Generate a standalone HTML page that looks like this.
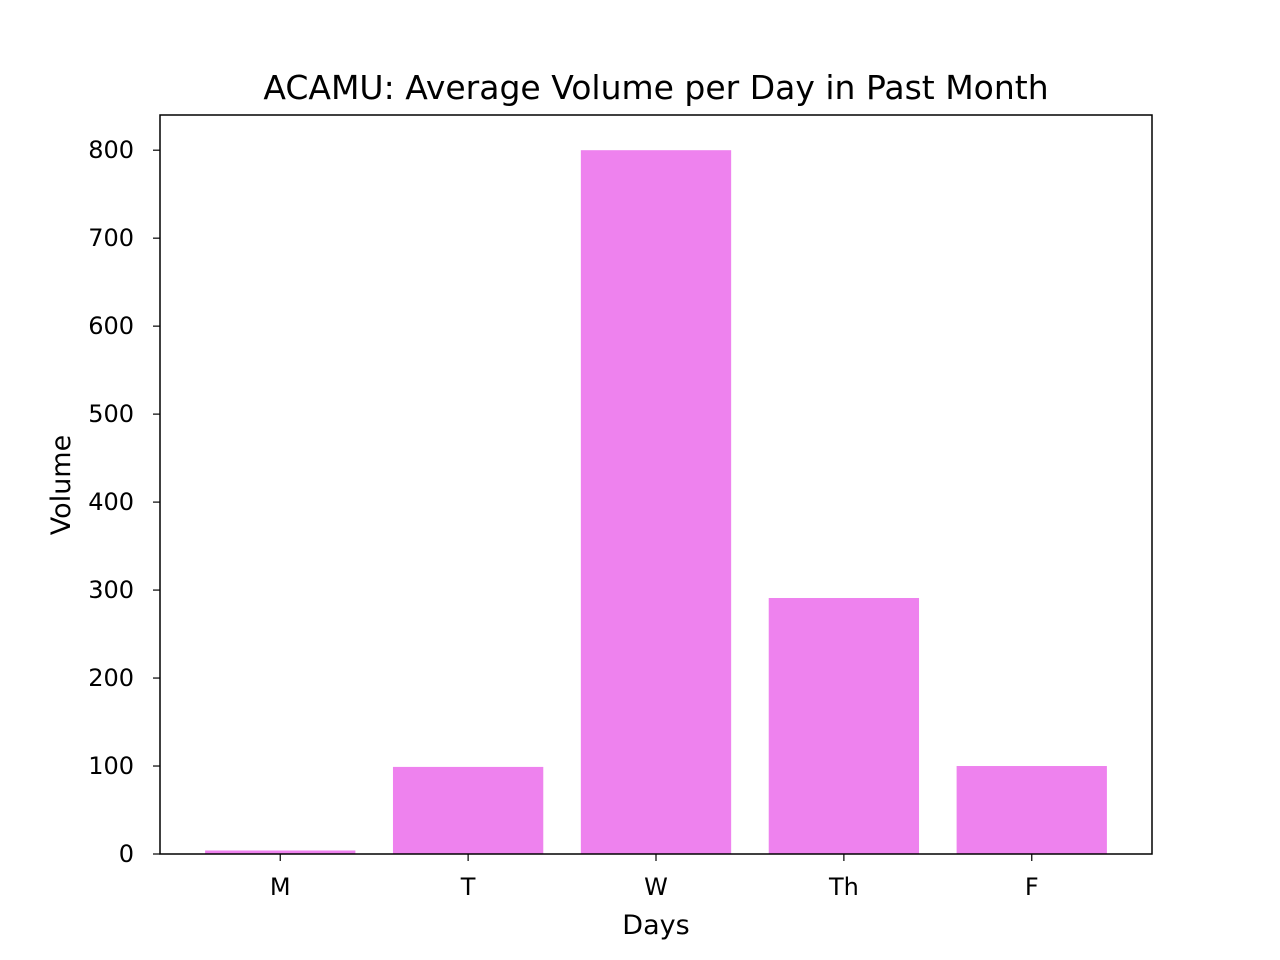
<!DOCTYPE html>
<html><head><meta charset="utf-8">
<style>
html,body{margin:0;padding:0;background:#fff;}
svg{display:block;font-family:"DejaVu Sans","Liberation Sans",sans-serif;}
</style></head>
<body>
<svg id="chart" width="1280" height="960" xmlns="http://www.w3.org/2000/svg">
<rect width="1280" height="960" fill="#fff"/>
<g id="bars"></g>
<g id="axes"></g>
</svg>
<script>
const categories = ["M","T","W","Th","F"];
const volumes = [4, 99, 800, 291, 100];
const yTicks = [0,100,200,300,400,500,600,700,800];
const chartTitle = "ACAMU: Average Volume per Day in Past Month";

const L=160,R=1152,T=115,B=854;
const xMin=-0.64,xMax=categories.length-1+0.64,yMin=0,yMax=840;
const xs=i=>L+(i-xMin)/(xMax-xMin)*(R-L);
const ys=v=>B-(v-yMin)/(yMax-yMin)*(B-T);
const NS="http://www.w3.org/2000/svg";
const bars=document.getElementById('bars'),axes=document.getElementById('axes');
function mk(tag,attrs,parent,text){const e=document.createElementNS(NS,tag);for(const k in attrs)e.setAttribute(k,attrs[k]);if(text!==undefined)e.textContent=text;parent.appendChild(e);return e;}
const bw=0.8*(xs(1)-xs(0));
volumes.forEach((v,i)=>{
  const r=mk('rect',{x:xs(i)-bw/2,y:ys(v),width:bw,height:ys(0)-ys(v),fill:'#EE82EE'},bars);
  
  
});
const frame=mk('rect',{x:L,y:T,width:R-L,height:B-T,fill:'none',stroke:'#000','stroke-width':1.5},axes);


yTicks.forEach(t=>{
  const y=ys(t);
  const tk=mk('line',{x1:L-7,x2:L,y1:y,y2:y,stroke:'#000','stroke-width':1.2},axes);
  
  
  const tx=mk('text',{x:L-26,y:y+8,'text-anchor':'end',style:'font-size:24px',fill:'#000'},axes,String(t));
  
  
});
categories.forEach((c,i)=>{
  const x=xs(i);
  const tk=mk('line',{x1:x,x2:x,y1:B,y2:B+7,stroke:'#000','stroke-width':1.2},axes);
  
  
  const tx=mk('text',{x:x,y:B+41,'text-anchor':'middle',style:'font-size:24px',fill:'#000'},axes,c);
  
  
});
const xt=mk('text',{x:(L+R)/2,y:934,'text-anchor':'middle',style:'font-size:27px'},axes,'Days');


const yt=mk('text',{x:0,y:0,'text-anchor':'middle',style:'font-size:27px',transform:'translate(70,485) rotate(-90)'},axes,'Volume');


const tt=mk('text',{x:(L+R)/2,y:99,'text-anchor':'middle',style:'font-size:33px'},axes,chartTitle);


</script>
</body></html>
